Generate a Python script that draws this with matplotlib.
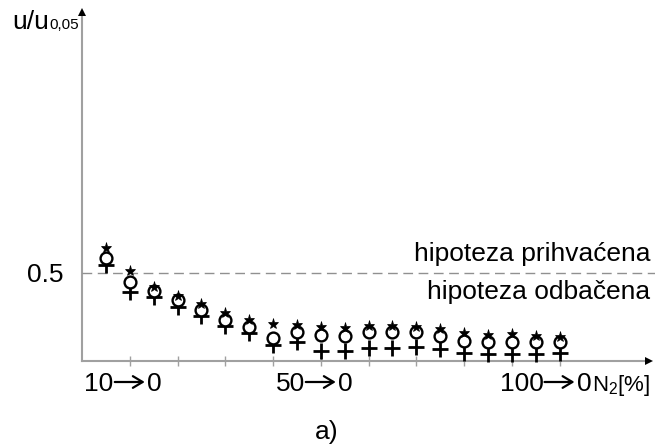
import matplotlib
matplotlib.use("Agg")
import matplotlib.pyplot as plt
from matplotlib.transforms import offset_copy

plt.rcParams['font.family'] = ['Liberation Sans', 'DejaVu Sans']
plt.rcParams['mathtext.fontset'] = 'custom'
plt.rcParams['mathtext.rm'] = 'Liberation Sans'
plt.rcParams['mathtext.it'] = 'Liberation Sans'

# N2 percentage positions (5% steps)
n2 = [5, 10, 15, 20, 25, 30, 35, 40, 45, 50, 55, 60, 65, 70, 75, 80, 85, 90, 95, 100]
star_vals = [0.557, 0.505, 0.468, 0.448, 0.430, 0.409, 0.393, 0.384, 0.382, 0.377,
             0.375, 0.379, 0.379, 0.377, 0.373, 0.364, 0.359, 0.361, 0.357, 0.355]
circle_vals = [0.534, 0.480, 0.459, 0.439, 0.416, 0.393, 0.377, 0.352, 0.366, 0.359,
               0.357, 0.366, 0.366, 0.366, 0.357, 0.345, 0.343, 0.343, 0.343, 0.343]
plus_vals = [0.518, 0.457, 0.445, 0.423, 0.402, 0.380, 0.364, 0.336, 0.343, 0.323,
             0.323, 0.330, 0.330, 0.332, 0.327, 0.318, 0.316, 0.316, 0.316, 0.318]
threshold = 0.5
xtick_pos = [10, 20, 30, 40, 50, 60, 70, 80, 90, 100]
xlabel_pos = [10, 50, 100]
xlabel_from = ["10", "50", "100"]
xlabel_to = ["0", "0", "0"]

W, H = 655, 445
fig = plt.figure(figsize=(W / 100, H / 100), dpi=100)
ax = fig.add_axes([82 / W, (H - 361) / H, (W - 82) / W, 352 / H])
ax.set_xlim(0, 120)
ax.set_ylim(0.3, 1.1)
for s in ax.spines.values():
    s.set_visible(False)

gray = '#a0a0a0'
# axes lines
ax.plot([0, 0], [0.3, 1.085], color=gray, lw=1.5, clip_on=False)
ax.plot([0, 118], [0.3, 0.3], color=gray, lw=1.5, clip_on=False)
ax.plot([0], [1.093], marker='^', color='black', ms=6, mew=0, clip_on=False)
ax.plot([118.8], [0.3], marker='>', color='black', ms=6, mew=0, clip_on=False)

# dashed threshold
ax.plot([0, 120], [threshold, threshold], color='#909090', lw=1.0,
        dashes=(7, 4), clip_on=False)

# ticks
ax.set_xticks(xtick_pos)
ax.set_xticklabels([])
ax.tick_params(axis='x', direction='inout', length=7, width=1, color=gray)
ax.set_yticks([threshold])
ax.set_yticklabels(['0.5'], fontsize=19)
ax.tick_params(axis='y', length=0, pad=13)

# markers
ax.plot(n2, plus_vals, linestyle='none', marker='+', ms=11, mew=2.0,
        color='black', clip_on=False, zorder=3)
ax.plot(n2, circle_vals, linestyle='none', marker='o', ms=8.5, mew=1.7,
        mfc='white', mec='black', clip_on=False, zorder=4)
ax.plot(n2, star_vals, linestyle='none', marker='*', ms=8, mew=0.5,
        color='black', clip_on=False, zorder=5)

# x labels: "a -> 0", arrow centred on tick
lab_base = 0.3 - 30 / 440.0   # baseline ~30 px below axis
lab_mid = 0.3 - 21 / 440.0
for xp, a, b in zip(xlabel_pos, xlabel_from, xlabel_to):
    tl = offset_copy(ax.transData, fig=fig, x=-16, y=0, units='dots')
    tr = offset_copy(ax.transData, fig=fig, x=17, y=0, units='dots')
    ax.text(xp, lab_base, a, ha='right', va='baseline', fontsize=19, transform=tl)
    ax.text(xp, lab_base, b, ha='left', va='baseline', fontsize=19, transform=tr)
    ta = offset_copy(ax.transData, fig=fig, x=-15, y=0, units='dots')
    tb = offset_copy(ax.transData, fig=fig, x=15, y=0, units='dots')
    p0 = ta.transform((xp, lab_mid))
    p1 = tb.transform((xp, lab_mid))
    ax.annotate('', xy=p1, xytext=p0, xycoords='figure pixels',
                textcoords='figure pixels',
                arrowprops=dict(arrowstyle='->,head_length=0.5,head_width=0.3',
                                lw=1.6, color='black',
                                mutation_scale=14, shrinkA=0, shrinkB=0))
ax.text(106.8, lab_base, r'N$_{\mathregular{2}}$[%]', ha='left', va='baseline', fontsize=16)

# annotations
ax.text(119.0, 0.516, 'hipoteza prihvaćena', ha='right', va='bottom', fontsize=19)
ax.text(119.0, 0.485, 'hipoteza odbačena', ha='right', va='top', fontsize=19)

fig.text(12 / W, 1 - 29 / H, 'u/u', ha='left', va='baseline', fontsize=19)
fig.text(49 / W, 1 - 29 / H, '0,05', ha='left', va='baseline', fontsize=11)
fig.text(327 / W, 1 - 432 / H, 'a)', ha='center', va='center', fontsize=19)

fig.savefig('out.png', dpi=100)
